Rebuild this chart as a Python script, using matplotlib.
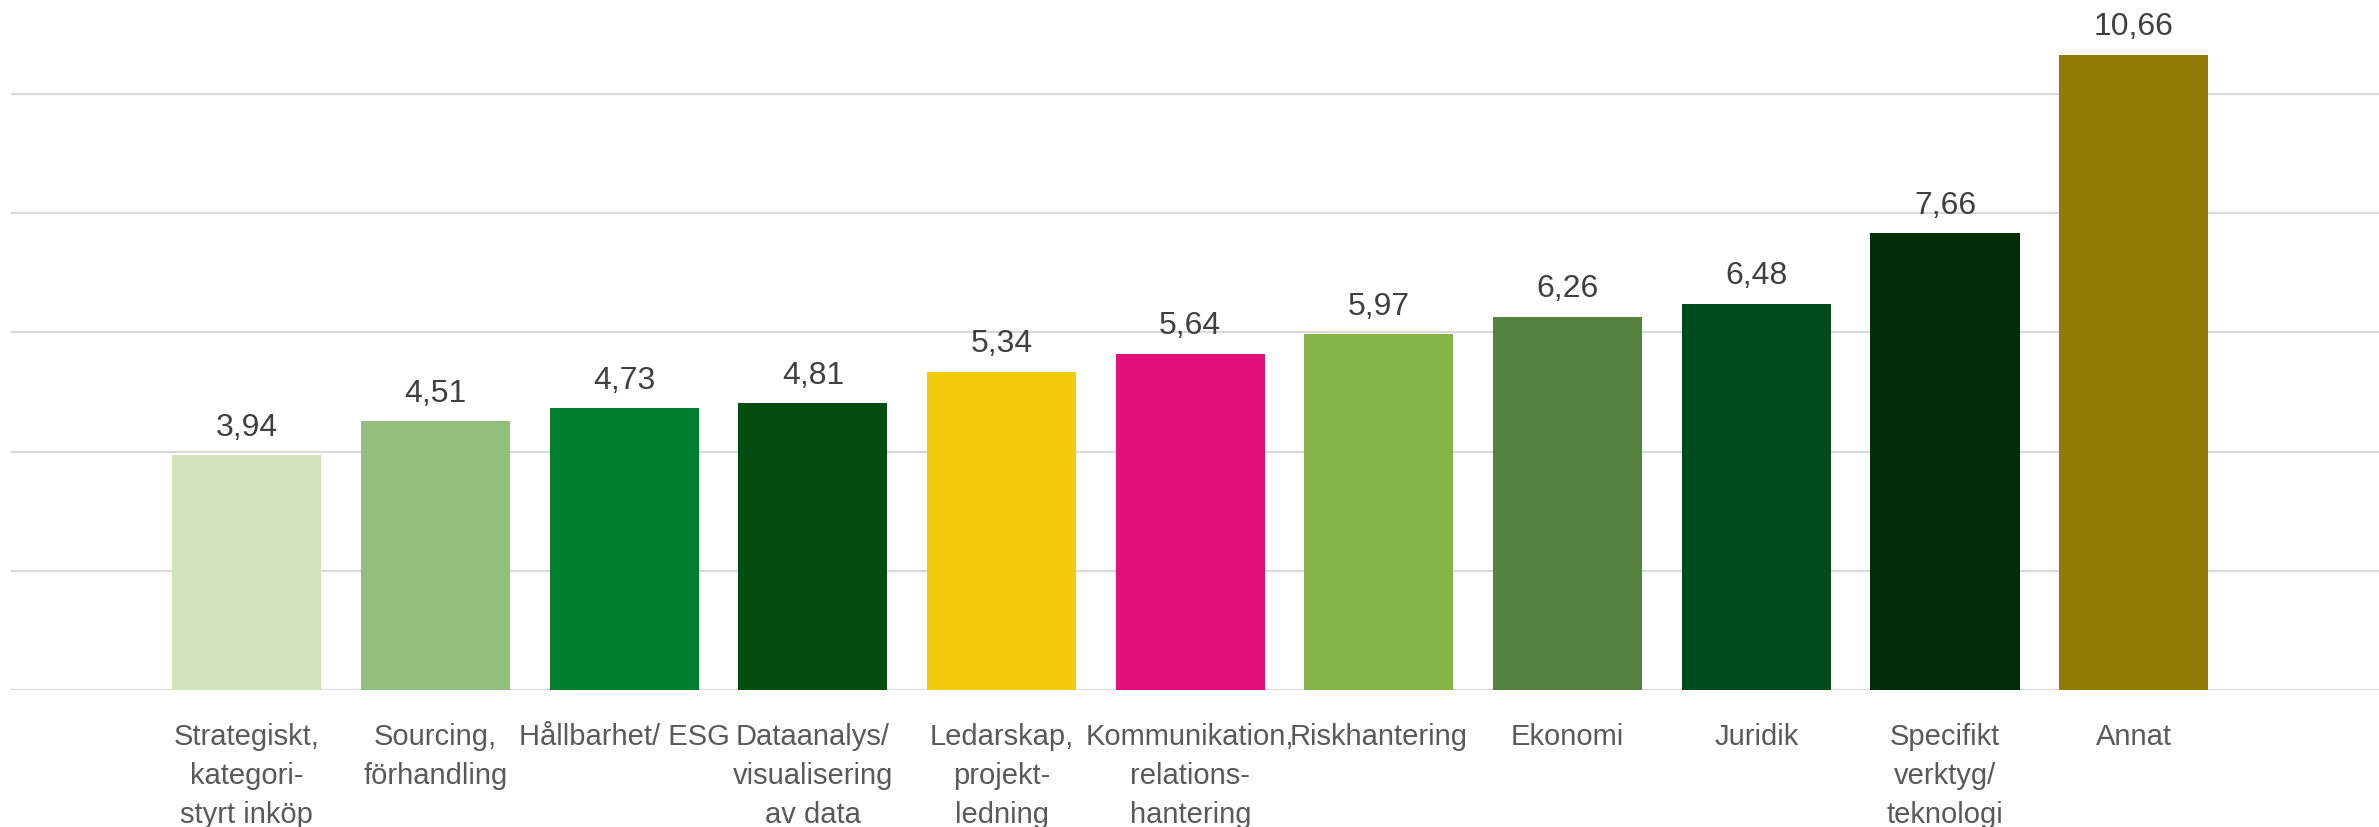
import matplotlib
matplotlib.use("Agg")
import matplotlib.pyplot as plt

categories = [
    "Strategiskt,\nkategori-\nstyrt inköp",
    "Sourcing,\nförhandling",
    "Hållbarhet/ ESG",
    "Dataanalys/\nvisualisering\nav data",
    "Ledarskap,\nprojekt-\nledning",
    "Kommunikation,\nrelations-\nhantering",
    "Riskhantering",
    "Ekonomi",
    "Juridik",
    "Specifikt\nverktyg/\nteknologi",
    "Annat",
]
values = [3.94, 4.51, 4.73, 4.81, 5.34, 5.64, 5.97, 6.26, 6.48, 7.66, 10.66]
colors = ["#D0E3BB", "#92C07C", "#007E2F", "#004D10", "#F2CB0C", "#E2107A",
          "#84B347", "#53813F", "#004B1C", "#002E0B", "#927A09"]
gridvals = [0, 2, 4, 6, 8, 10]

plt.rcParams['font.family'] = ['Liberation Sans', 'DejaVu Sans']

W, H, DPI = 2379, 827, 100
fig = plt.figure(figsize=(W / DPI, H / DPI), dpi=DPI)
ax = fig.add_axes([11 / W, (H - 690) / H, (W - 11) / W, 690 / H])

x = list(range(len(values)))
ax.bar(x, values, width=0.79, color=colors, zorder=3)
ax.set_xlim(-1.25, 11.30)
ax.set_ylim(0, 690 / 59.6)

for g in gridvals:
    ax.axhline(g, color="#D9D9D9", lw=1.6, zorder=1)

for xi, v in zip(x, values):
    ax.annotate(f"{v:.2f}".replace(".", ","), (xi, v), xytext=(0, 14),
                textcoords="offset points", ha="center", va="baseline",
                fontsize=23, color="#404040")

ax.set_xticks(x)
ax.set_xticklabels(categories, fontsize=21, color="#595959",
                   multialignment="center", linespacing=1.5)
ax.tick_params(axis="x", length=0, pad=24)
ax.set_yticks([])
for s in ax.spines.values():
    s.set_visible(False)
ax.patch.set_alpha(0)

fig.savefig("out.png", dpi=DPI)
